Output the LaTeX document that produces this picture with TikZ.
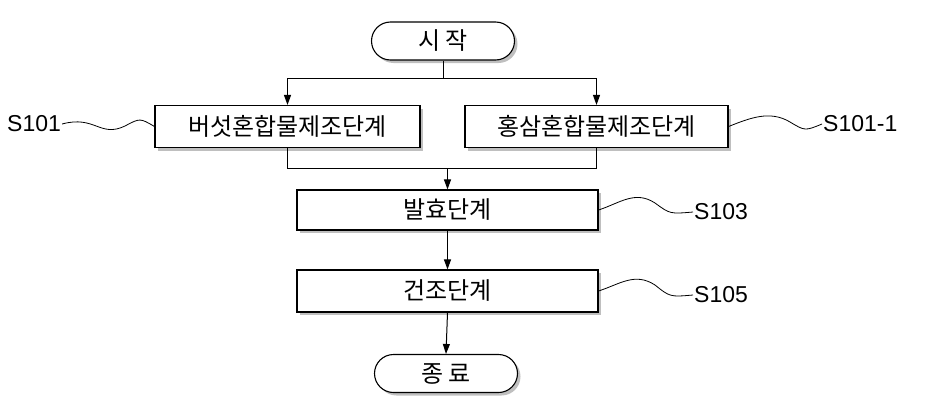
\documentclass[tikz,border=0pt]{standalone}
\usepackage{fontspec}
\setmainfont{Liberation Sans}
\newfontfamily\cjk{Noto Sans CJK KR}
\usetikzlibrary{shadows,arrows.meta,shapes.misc}
\begin{document}
\begin{tikzpicture}[x=1pt,y=-1pt,
 box/.style={draw,line width=1.1pt,fill=white,drop shadow={shadow xshift=3pt,shadow yshift=-3pt,opacity=.5},font=\cjk\fontsize{24}{24}\selectfont,inner sep=0pt},
 term/.style={box,rounded rectangle,minimum width=143pt,minimum height=38pt},
 proc/.style={box,rectangle,minimum height=42pt},
 arr/.style={-{Triangle[length=10pt,width=7pt]},line width=1pt},
 ln/.style={line width=1pt},
 lab/.style={font=\fontsize{23}{23}\selectfont}]
\useasboundingbox (0,0) rectangle (925,407);
\node[term] (s) at (443,41) {시 작};
\node[proc,minimum width=265pt] (a) at (287.5,126.5) {버섯혼합물제조단계};
\node[proc,minimum width=263pt] (b) at (596.5,126.5) {홍삼혼합물제조단계};
\node[proc,minimum width=301pt,minimum height=40pt] (c) at (447.5,210) {발효단계};
\node[proc,minimum width=301pt] (d) at (447.5,291) {건조단계};
\node[term] (e) at (446,373.5) {종 료};
\coordinate (j1) at (443,78);
\coordinate (j2) at (447.5,168);
\draw[ln] (s.south) -- (j1);
\draw[arr] (j1) -| (a.north);
\draw[arr] (j1) -| (b.north);
\draw[ln] (a.south) |- (j2);
\draw[ln] (b.south) |- (j2);
\draw[arr] (j2) -- (c.north);
\draw[arr] (c.south) -- (d.north);
\draw[arr] (d.south) -- (e.north);
\node[lab,anchor=west,inner sep=1pt] (l1) at (6,124) {S101};
\node[lab,anchor=west,inner sep=1pt] (l2) at (822,124) {S101-1};
\node[lab,anchor=west,inner sep=1pt] (l3) at (693,212) {S103};
\node[lab,anchor=west,inner sep=1pt] (l4) at (693,295) {S105};
\draw[line width=.8pt] (l1.east) .. controls (95,115) and (100,138) .. (125,126) .. controls (140,118) .. (a.west);
\draw[line width=.8pt] (b.east) .. controls (750,118) and (770,110) .. (790,122) .. controls (805,131) .. (l2.west);
\draw[line width=.8pt] (c.east) .. controls (620,203) and (635,190) .. (655,203) .. controls (670,214) .. (l3.west);
\draw[line width=.8pt] (d.east) .. controls (620,284) and (635,272) .. (655,285) .. controls (670,297) .. (l4.west);
\end{tikzpicture}
\end{document}
